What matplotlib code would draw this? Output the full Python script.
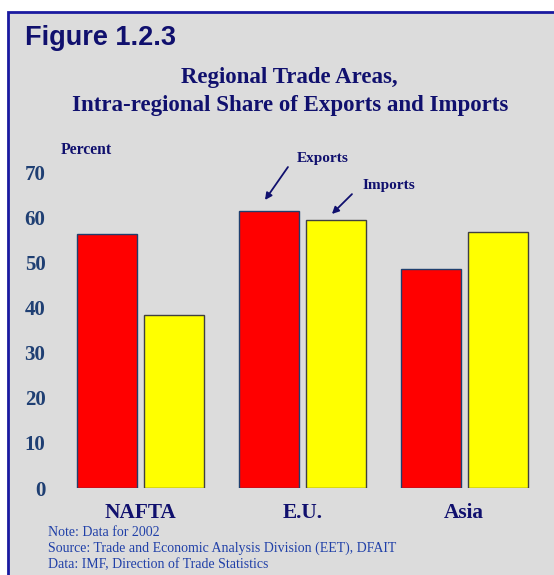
import matplotlib.pyplot as plt
import numpy as np
from matplotlib.patches import Rectangle

regions = ["NAFTA", "E.U.", "Asia"]
exports = [56.3, 61.4, 48.5]
imports = [38.3, 59.4, 56.7]
yticks = [0, 10, 20, 30, 40, 50, 60, 70]
notes = ["Note: Data for 2002",
         "Source: Trade and Economic Analysis Division (EET), DFAIT",
         "Data: IMF, Direction of Trade Statistics"]

navy = '#10106E'
serif = 'Liberation Serif'

fig = plt.figure(figsize=(5.54, 5.75), dpi=100, facecolor='white')
W, H = 554, 575

# gray panel with blue frame
fig.patches.append(Rectangle((8 / W, -0.01), 1.02, 1 - 12 / H + 0.01,
                             transform=fig.transFigure, facecolor='#DCDCDC',
                             edgecolor='#1A1AA0', linewidth=2, zorder=-5))

ax = fig.add_axes([60 / W, (H - 488) / H, 485 / W, 316 / H])
ax.set_facecolor('none')
x = np.arange(len(regions))
width = 0.372
off = 0.207
b1 = ax.bar(x - off, exports, width, color='#FF0000', edgecolor='#1F3F6F', linewidth=1)
b2 = ax.bar(x + off, imports, width, color='#FFFF00', edgecolor='#404040', linewidth=1)

ax.set_xlim(-0.5, 2.5)
ax.set_ylim(0, 70)
ax.set_yticks(yticks)
ax.set_yticklabels([str(t) for t in yticks], fontfamily=serif, fontweight='bold',
                   fontsize=15, color='#1F3F73')
ax.set_xticks(x)
ax.set_xticklabels(regions, fontfamily=serif, fontweight='bold', fontsize=15.3, color=navy)
ax.tick_params(axis='y', length=0, pad=10.5)
ax.tick_params(axis='x', length=0, pad=10.5)
for s in ax.spines.values():
    s.set_visible(False)

# titles
fig.text(25 / W, 1 - 38 / H, "Figure 1.2.3", fontfamily='Liberation Sans', fontweight='bold',
         fontsize=19.5, color=navy, va='center', ha='left')
fig.text(289 / W, 1 - 77 / H, "Regional Trade Areas,", fontfamily=serif, fontweight='bold',
         fontsize=16.5, color=navy, ha='center', va='center')
fig.text(290 / W, 1 - 105 / H, "Intra-regional Share of Exports and Imports",
         fontfamily=serif, fontweight='bold', fontsize=16.5, color=navy,
         ha='center', va='center')
fig.text(61 / W, 1 - 150 / H, "Percent", fontfamily=serif, fontweight='bold',
         fontsize=11.3, color=navy, va='center', ha='left')

# annotations
arrow = dict(arrowstyle='-|>', color=navy, lw=1.3, mutation_scale=10, shrinkA=0, shrinkB=0)
ax.text(0.966, 72.9, "Exports", fontfamily=serif, fontweight='bold', fontsize=11,
        color=navy, ha='left', va='center')
ax.annotate("", xy=(0.768, 63.8), xytext=(0.910, 71.1), annotation_clip=False,
            arrowprops=arrow)
ax.text(1.374, 66.9, "Imports", fontfamily=serif, fontweight='bold', fontsize=11,
        color=navy, ha='left', va='center')
ax.annotate("", xy=(1.182, 60.7), xytext=(1.306, 65.1), annotation_clip=False,
            arrowprops=arrow)

# notes
for i, line in enumerate(notes):
    fig.text(48 / W, 1 - (532 + 16.5 * i) / H, line, fontfamily=serif, fontsize=10,
             color='#2040A8', va='center', ha='left')

fig.savefig('out.png', dpi=100, facecolor=fig.get_facecolor())
